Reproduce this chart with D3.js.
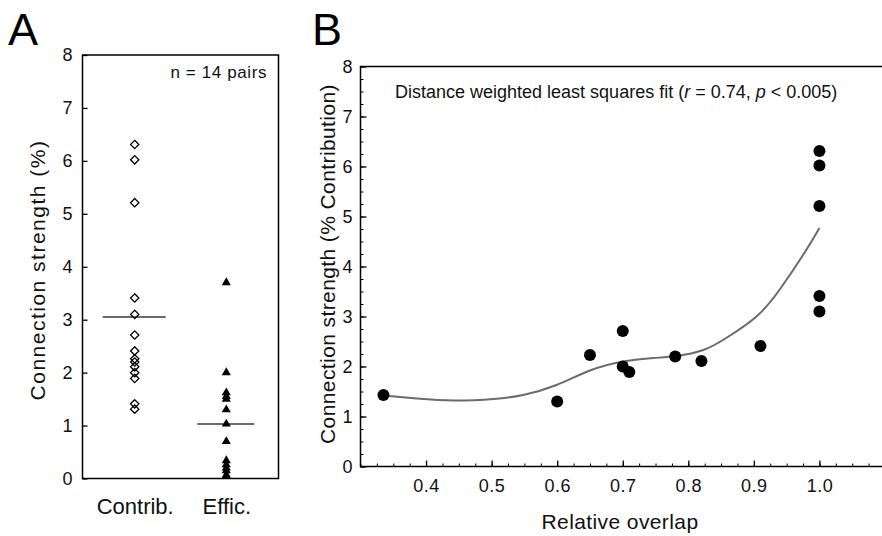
<!DOCTYPE html>
<html>
<head>
<meta charset="utf-8">
<script src="https://cdn.jsdelivr.net/npm/d3@7"></script>
<style>
  body { margin: 0; background: #fff; }
  svg { display: block; font-family: "Liberation Sans", Arial, sans-serif; }
  .domain { display: none; }
</style>
</head>
<body>
<svg id="fig" width="882" height="536"></svg>
<script>
// panel A: connection strength per pair
var groups = ['Contrib.', 'Effic.'];
var contrib = [6.31, 6.02, 5.21, 3.41, 3.10, 2.71, 2.41, 2.26, 2.2, 2.11, 2.0, 1.89, 1.41, 1.31];
var effic = [3.7, 2.0, 1.62, 1.55, 1.5, 1.3, 1.03, 0.7, 0.34, 0.26, 0.2, 0.15, 0.07, 0.04];
var groupMeans = [3.05, 1.03];
var aTicks = [0, 1, 2, 3, 4, 5, 6, 7, 8];

// panel B: overlap vs contribution
var overlap = [0.335, 0.60, 0.65, 0.70, 0.70, 0.71, 0.78, 0.82, 0.91, 1.0, 1.0, 1.0, 1.0, 1.0];
var strength = [1.43, 1.30, 2.23, 2.71, 2.0, 1.89, 2.2, 2.11, 2.41, 6.31, 6.02, 5.21, 3.41, 3.10];
// fitted curve
var fitX = [0.335, 0.386, 0.442, 0.503, 0.548, 0.599, 0.650, 0.701, 0.747, 0.782, 0.823, 0.859, 0.904, 0.940, 0.976, 1.0];
var fitY = [1.42, 1.36, 1.32, 1.35, 1.43, 1.63, 1.92, 2.10, 2.17, 2.21, 2.33, 2.58, 3.0, 3.55, 4.25, 4.77];
var bXTicks = [0.4, 0.5, 0.6, 0.7, 0.8, 0.9, 1.0];

var svg = d3.select('svg#fig');

// ---------- panel A ----------
var ax = d3.scalePoint().domain(groups).range([82.5, 278.5]).padding(0.57);
var ay = d3.scaleLinear().domain([0, 8]).range([478.5, 55]);

var gA = svg.append('g');

gA.append('g')
    .attr('transform', 'translate(82.5,0)')
    .call(d3.axisLeft(ay).tickValues(aTicks).tickSize(-5).tickPadding(10).tickFormat(d3.format('d')))
    .call(g => g.selectAll('text').attr('font-size', 18).attr('fill', '#111').attr('font-family', 'Liberation Sans'))
    .call(g => g.selectAll('line').attr('stroke', '#000').attr('stroke-width', 1.3));

gA.append('rect')
    .attr('x', 82.5).attr('y', ay(8))
    .attr('width', 278.5 - 82.5).attr('height', ay(0) - ay(8))
    .attr('fill', 'none').attr('stroke', '#000').attr('stroke-width', 1.5);

gA.append('g')
    .attr('transform', 'translate(0,478.5)')
    .call(d3.axisBottom(ax).tickSize(0).tickPadding(20))
    .call(g => g.selectAll('text').attr('font-size', 22).attr('fill', '#111').attr('font-family', 'Liberation Sans'));

// mean lines
gA.selectAll('line.mean')
    .data(groups)
    .join('line')
    .attr('class', 'mean')
    .attr('x1', (d, i) => ax(d) - (i === 0 ? 32 : 29))
    .attr('x2', (d, i) => ax(d) + (i === 0 ? 31 : 28))
    .attr('y1', (d, i) => ay(groupMeans[i]))
    .attr('y2', (d, i) => ay(groupMeans[i]))
    .attr('stroke', '#6b6b6b').attr('stroke-width', 2);

var diamond = d3.symbol().type(d3.symbolDiamond2).size(44);
gA.selectAll('path.contrib')
    .data(contrib)
    .join('path')
    .attr('class', 'contrib')
    .attr('transform', d => 'translate(' + ax('Contrib.') + ',' + ay(d) + ')')
    .attr('d', diamond)
    .attr('fill', 'none').attr('stroke', '#000').attr('stroke-width', 1.3);

var tri = d3.symbol().type(d3.symbolTriangle).size(36);
gA.selectAll('path.effic')
    .data(effic)
    .join('path')
    .attr('class', 'effic')
    .attr('transform', d => 'translate(' + ax('Effic.') + ',' + ay(d) + ')')
    .attr('d', tri)
    .attr('fill', '#000');

gA.append('text')
    .attr('x', 267).attr('y', 78)
    .attr('text-anchor', 'end').attr('font-size', 17).attr('letter-spacing', 0.6).attr('fill', '#111')
    .text('n = 14 pairs');

gA.append('text')
    .attr('transform', 'translate(45,270) rotate(-90)')
    .attr('text-anchor', 'middle').attr('font-size', 21).attr('letter-spacing', 1.5).attr('fill', '#111')
    .text('Connection strength (%)');

svg.append('text')
    .attr('x', 8).attr('y', 45)
    .attr('font-size', 45).attr('fill', '#000')
    .text('A');

// ---------- panel B ----------
var bx = d3.scaleLinear().domain([0.3, 1.1]).range([360.5, 885]);
var by = d3.scaleLinear().domain([0, 8]).range([466.5, 66.5]);

var gB = svg.append('g');

// minor ticks
gB.append('g')
    .attr('transform', 'translate(360.5,0)')
    .call(d3.axisLeft(by).tickValues(d3.range(0, 8.01, 0.25)).tickSize(-3).tickFormat(''))
    .call(g => g.selectAll('line').attr('stroke', '#000'));
gB.append('g')
    .attr('transform', 'translate(0,466.5)')
    .call(d3.axisBottom(bx).tickValues(d3.range(0.3, 1.1, 0.025)).tickSize(-3).tickFormat(''))
    .call(g => g.selectAll('line').attr('stroke', '#000'));

// major ticks
gB.append('g')
    .attr('transform', 'translate(360.5,0)')
    .call(d3.axisLeft(by).tickValues(aTicks).tickSize(-6).tickPadding(8).tickFormat(d3.format('d')))
    .call(g => g.selectAll('text').attr('font-size', 18).attr('fill', '#111').attr('font-family', 'Liberation Sans'))
    .call(g => g.selectAll('line').attr('stroke', '#000').attr('stroke-width', 1.3));
gB.append('g')
    .attr('transform', 'translate(0,466.5)')
    .call(d3.axisBottom(bx).tickValues(bXTicks).tickSize(-6).tickPadding(13).tickFormat(d3.format('.1f')))
    .call(g => g.selectAll('text').attr('font-size', 18).attr('letter-spacing', 0.5).attr('fill', '#111').attr('font-family', 'Liberation Sans'))
    .call(g => g.selectAll('line').attr('stroke', '#000').attr('stroke-width', 1.3));

// frame: left, bottom, top
gB.append('path')
    .attr('d', 'M882,' + by(8) + 'H360.5V' + by(0) + 'H882')
    .attr('fill', 'none').attr('stroke', '#000').attr('stroke-width', 1.5);

var fitLine = d3.line()
    .x(function (d, i) { return bx(fitX[i]); })
    .y(function (d) { return by(d); })
    .curve(d3.curveNatural);

gB.append('path')
    .datum(fitY)
    .attr('d', fitLine)
    .attr('fill', 'none').attr('stroke', '#6b6b6b').attr('stroke-width', 2);

gB.selectAll('circle')
    .data(overlap)
    .join('circle')
    .attr('cx', d => bx(d))
    .attr('cy', (d, i) => by(strength[i]))
    .attr('r', 6)
    .attr('fill', '#000');

var note = gB.append('text')
    .attr('x', 395).attr('y', 98)
    .attr('font-size', 18).attr('fill', '#111');
note.append('tspan').text('Distance weighted least squares fit (');
note.append('tspan').attr('font-style', 'italic').text('r');
note.append('tspan').text(' = 0.74, ');
note.append('tspan').attr('font-style', 'italic').text('p');
note.append('tspan').text(' < 0.005)');

gB.append('text')
    .attr('transform', 'translate(335,264) rotate(-90)')
    .attr('text-anchor', 'middle').attr('font-size', 21).attr('letter-spacing', 0.4).attr('fill', '#111')
    .text('Connection strength (% Contribution)');

gB.append('text')
    .attr('x', 620).attr('y', 529)
    .attr('text-anchor', 'middle').attr('font-size', 21).attr('letter-spacing', 0.4).attr('fill', '#111')
    .text('Relative overlap');

svg.append('text')
    .attr('x', 312).attr('y', 45)
    .attr('font-size', 45).attr('fill', '#000')
    .text('B');
</script>
</body>
</html>
